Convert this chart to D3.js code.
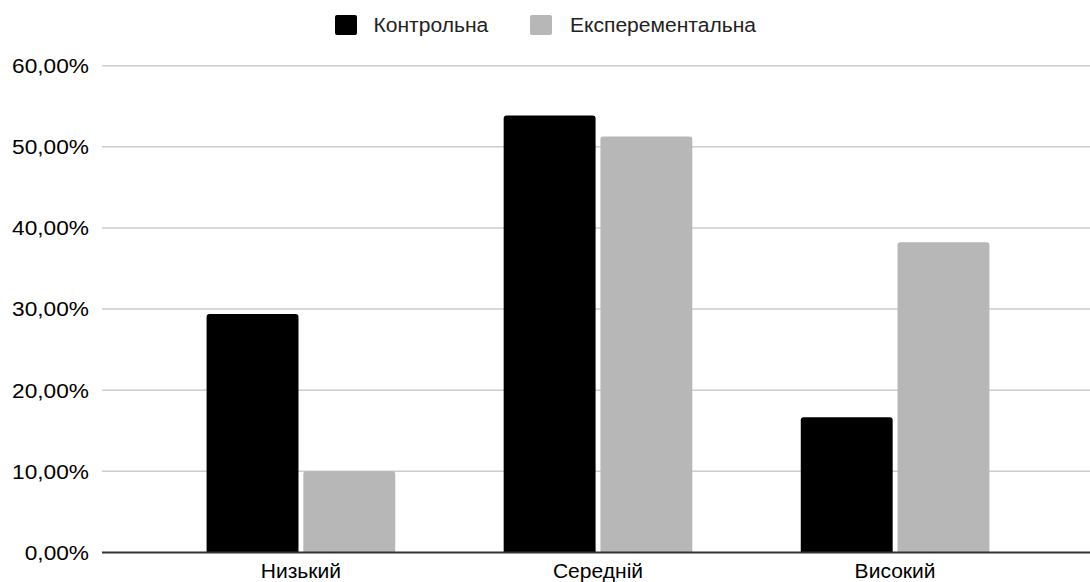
<!DOCTYPE html>
<html>
<head>
<meta charset="utf-8">
<script src="https://cdn.jsdelivr.net/npm/d3@7"></script>
<style>
  html, body { margin: 0; padding: 0; background: #fff; }
  svg { display: block; font-family: "Liberation Sans", Arial, sans-serif; }
</style>
</head>
<body>
<svg id="chart" width="1090" height="582"></svg>
<script>
// Levels and the two groups compared
const categories = ["Низький", "Середній", "Високий"];
const seriesNames = ["Контрольна", "Експерементальна"];
const control = [0.2941, 0.5385, 0.1667];
const experimental = [0.1000, 0.5128, 0.3825];
const tickValues = [0, 0.1, 0.2, 0.3, 0.4, 0.5, 0.6];
const colors = ["#000000", "#b7b7b7"];

const svg = d3.select("#chart");
const W = 1090, H = 582;
const plot = { left: 102, right: 1094, top: 65.7, bottom: 552.5 };
const sx = 1.08; // slight horizontal widening of the lettering

const y = d3.scaleLinear().domain([0, 0.6]).range([plot.bottom, plot.top]);
const x = d3.scaleBand().domain(categories).range([plot.left, plot.right])
  .paddingInner(0.365).paddingOuter(0.352);
const xs = d3.scaleBand().domain(seriesNames).range([0, x.bandwidth()]).paddingInner(0.05);

const fmt = v => d3.format(".2f")(v * 100).replace(".", ",") + "%";

// horizontal gridlines
svg.append("g").selectAll("line")
  .data(tickValues.filter(v => v > 0))
  .join("line")
  .attr("x1", plot.left).attr("x2", W)
  .attr("y1", d => y(d)).attr("y2", d => y(d))
  .attr("stroke", "#cccccc").attr("stroke-width", 1.5);

// y tick labels
svg.append("g").selectAll("text")
  .data(tickValues)
  .join("text")
  .attr("transform", d => `translate(89,${y(d) + 7.3}) scale(${sx},1)`)
  .attr("text-anchor", "end")
  .attr("font-size", 21)
  .attr("fill", "#000")
  .text(fmt);

// bars with rounded top corners
function topRounded(x0, y0, w, h, r) {
  r = Math.min(r, h, w / 2);
  return `M${x0},${y0 + h}V${y0 + r}Q${x0},${y0} ${x0 + r},${y0}` +
         `H${x0 + w - r}Q${x0 + w},${y0} ${x0 + w},${y0 + r}V${y0 + h}Z`;
}

const rows = categories.map((c, i) => ({
  cat: c,
  vals: [{ s: seriesNames[0], v: control[i], k: 0 }, { s: seriesNames[1], v: experimental[i], k: 1 }]
}));

svg.append("g").selectAll("g")
  .data(rows)
  .join("g")
  .attr("transform", d => `translate(${x(d.cat)},0)`)
  .selectAll("path")
  .data(d => d.vals)
  .join("path")
  .attr("d", d => topRounded(xs(d.s), y(d.v), xs.bandwidth(), y(0) - y(d.v), 3))
  .attr("fill", d => colors[d.k]);

// baseline
svg.append("line")
  .attr("x1", plot.left).attr("x2", W)
  .attr("y1", y(0)).attr("y2", y(0))
  .attr("stroke", "#333333").attr("stroke-width", 2);

// category labels
svg.append("g").selectAll("text")
  .data(categories)
  .join("text")
  .attr("transform", d => `translate(${x(d) + x.bandwidth() / 2},577.5) scale(${sx},1)`)
  .attr("text-anchor", "middle")
  .attr("font-size", 19.5)
  .attr("fill", "#000")
  .text(d => d);

// legend
const legendItems = [
  { name: seriesNames[0], color: colors[0], sq: 335, tx: 373.5 },
  { name: seriesNames[1], color: colors[1], sq: 530, tx: 570 }
];
const lg = svg.append("g");
lg.selectAll("rect")
  .data(legendItems)
  .join("rect")
  .attr("x", d => d.sq).attr("y", 15)
  .attr("width", 22).attr("height", 20)
  .attr("rx", 2)
  .attr("fill", d => d.color);
lg.selectAll("text")
  .data(legendItems)
  .join("text")
  .attr("transform", d => `translate(${d.tx},31.7) scale(${sx},1)`)
  .attr("font-size", 19.5)
  .attr("fill", "#222")
  .text(d => d.name);
</script>
</body>
</html>
